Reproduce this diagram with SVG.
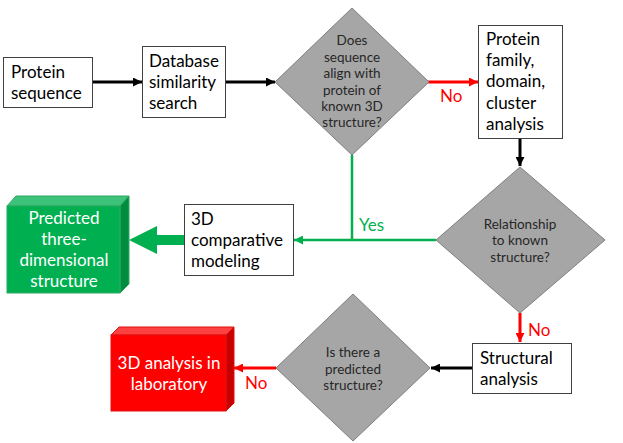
<svg xmlns="http://www.w3.org/2000/svg" width="623" height="443" viewBox="0 0 623 443">
<defs>
<style>
.box{fill:#fff;stroke:#404040;stroke-width:1}
.dia{fill:#A6A6A6;stroke:#7F7F7F;stroke-width:1}
.t{font-family:Lato,"Liberation Sans",sans-serif;font-size:17px;fill:#000}
.dt{font-family:Lato,"Liberation Sans",sans-serif;font-size:13.5px;fill:#262626;text-anchor:middle}
.wt{font-family:Lato,"Liberation Sans",sans-serif;font-size:17px;fill:#fff;text-anchor:middle}
.blk{stroke:#000;stroke-width:3;fill:none}
.red{stroke:#FF0000;stroke-width:3;fill:none}
.grn{stroke:#00B050;stroke-width:2.5;fill:none}
.rl{font-family:Lato,"Liberation Sans",sans-serif;font-size:17px;fill:#FF0000}
.gl{font-family:Lato,"Liberation Sans",sans-serif;font-size:17px;fill:#00B050}
</style>
<marker id="ab" viewBox="0 0 10 10" refX="10" refY="5" markerWidth="9" markerHeight="9" markerUnits="userSpaceOnUse" orient="auto"><path d="M0,0 L10,5 L0,10 z" fill="#000"/></marker>
<marker id="ar" viewBox="0 0 10 10" refX="10" refY="5" markerWidth="9" markerHeight="9" markerUnits="userSpaceOnUse" orient="auto"><path d="M0,0 L10,5 L0,10 z" fill="#FF0000"/></marker>
<marker id="ag" viewBox="0 0 10 10" refX="10" refY="5" markerWidth="9" markerHeight="9" markerUnits="userSpaceOnUse" orient="auto"><path d="M0,0 L10,5 L0,10 z" fill="#00B050"/></marker>
</defs>
<rect width="623" height="443" fill="#fff"/>

<g id="connectors">
<line class="blk" x1="93" y1="82" x2="142" y2="82" marker-end="url(#ab)"/>
<line class="blk" x1="226" y1="82" x2="275" y2="82" marker-end="url(#ab)"/>
<line class="red" x1="428" y1="82" x2="478" y2="82" marker-end="url(#ar)"/>
<text class="rl" x="440" y="102">No</text>
<line class="blk" x1="520" y1="139" x2="520" y2="166" marker-end="url(#ab)"/>
<line class="grn" x1="352" y1="155" x2="352" y2="241"/>
<line class="grn" x1="436" y1="240" x2="294" y2="240" marker-end="url(#ag)"/>
<text class="gl" x="359" y="231">Yes</text>
<polygon points="184,235 157,235 157,226 129,240 157,254 157,245 184,245" fill="#00B050"/>
<line class="red" x1="520" y1="313" x2="520" y2="342" marker-end="url(#ar)"/>
<text class="rl" x="528" y="336">No</text>
<line class="blk" x1="472" y1="368" x2="431" y2="368" marker-end="url(#ab)"/>
<line class="red" x1="276" y1="368" x2="234" y2="368" marker-end="url(#ar)"/>
<text class="rl" x="245" y="389">No</text>
</g>

<g id="protein-sequence">
<rect class="box" x="3.5" y="57.5" width="89" height="50"/>
<text class="t" x="11" y="78">Protein</text>
<text class="t" x="11" y="99">sequence</text>
</g>

<g id="database-search">
<rect class="box" x="142.5" y="46.5" width="83" height="71"/>
<text class="t" x="149" y="67">Database</text>
<text class="t" x="149" y="88">similarity</text>
<text class="t" x="149" y="109">search</text>
</g>

<g id="align-decision">
<polygon class="dia" points="352,8 429,82 352,155 275,82"/>
<text class="dt" x="352" y="45">Does</text>
<text class="dt" x="352" y="62">sequence</text>
<text class="dt" x="352" y="78">align with</text>
<text class="dt" x="352" y="95">protein of</text>
<text class="dt" x="352" y="111">known 3D</text>
<text class="dt" x="352" y="127">structure?</text>
</g>

<g id="protein-family">
<rect class="box" x="478.5" y="25.5" width="84" height="113"/>
<text class="t" x="486" y="45">Protein</text>
<text class="t" x="486" y="66">family,</text>
<text class="t" x="486" y="87">domain,</text>
<text class="t" x="486" y="109">cluster</text>
<text class="t" x="486" y="130">analysis</text>
</g>

<g id="relationship-decision">
<polygon class="dia" points="520,167 605,240 520,313 436,240"/>
<text class="dt" x="520" y="229">Relationship</text>
<text class="dt" x="520" y="245">to known</text>
<text class="dt" x="520" y="262">structure?</text>
</g>

<g id="comparative-modeling">
<rect class="box" x="184.5" y="204.5" width="109" height="71"/>
<text class="t" x="191" y="225">3D</text>
<text class="t" x="191" y="246">comparative</text>
<text class="t" x="191" y="267">modeling</text>
</g>

<g id="predicted-structure">
<polygon points="7,206 16,196 129,196 120,206" fill="#3DC27A" stroke="#2FA862" stroke-width="1"/>
<polygon points="120,206 129,196 129,284 120,293" fill="#008D3F" stroke="#2FA862" stroke-width="1"/>
<rect x="7" y="206" width="113" height="87" fill="#00B050" stroke="#2FA862" stroke-width="1"/>
<text class="wt" x="64" y="224">Predicted</text>
<text class="wt" x="64" y="245">three-</text>
<text class="wt" x="64" y="266">dimensional</text>
<text class="wt" x="64" y="287">structure</text>
</g>

<g id="structural-analysis">
<rect class="box" x="472.5" y="343.5" width="99" height="50"/>
<text class="t" x="480" y="364">Structural</text>
<text class="t" x="480" y="385">analysis</text>
</g>

<g id="predicted-decision">
<polygon class="dia" points="353,294 430,368 353,441 276,368"/>
<text class="dt" x="353" y="357">Is there a</text>
<text class="dt" x="353" y="374">predicted</text>
<text class="dt" x="353" y="390">structure?</text>
</g>

<g id="lab-analysis">
<polygon points="111,335 119,327 234,327 226,335" fill="#FF4040" stroke="#E01010" stroke-width="1"/>
<polygon points="226,335 234,327 234,403 226,411" fill="#C80000" stroke="#E01010" stroke-width="1"/>
<rect x="111" y="335" width="115" height="76" fill="#FF0000" stroke="#E01010" stroke-width="1"/>
<text class="wt" x="169" y="369">3D analysis in</text>
<text class="wt" x="169" y="390">laboratory</text>
</g>
</svg>
